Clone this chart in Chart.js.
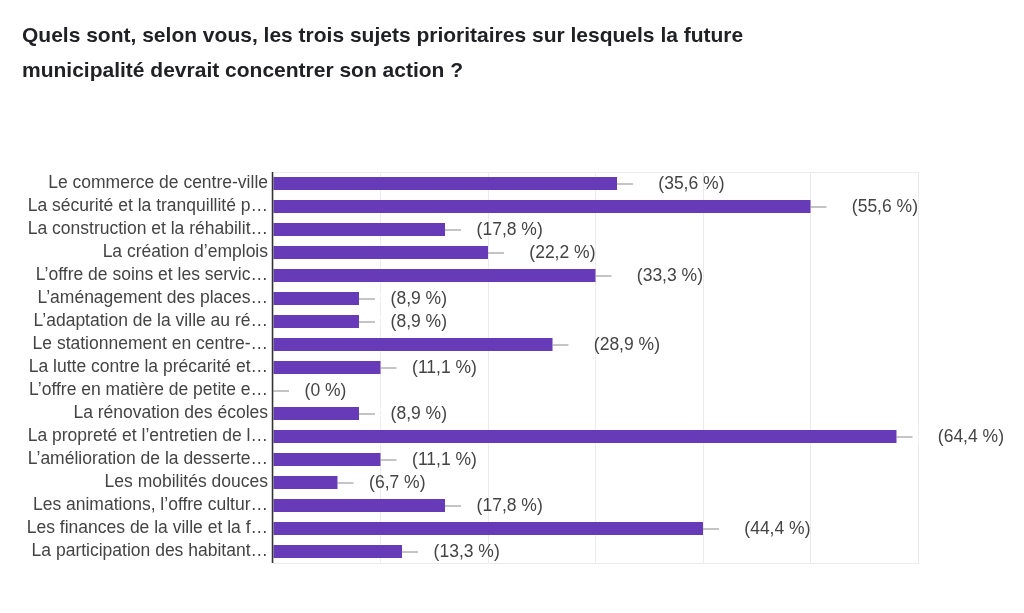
<!DOCTYPE html>
<html>
<head>
<meta charset="utf-8">
<script src="https://cdn.jsdelivr.net/npm/chart.js@4.4.0/dist/chart.umd.min.js"></script>
<style>
html,body{margin:0;padding:0;background:#fff;}
#wrap{width:1024px;height:613px;position:relative;}
</style>
</head>
<body>
<div id="wrap"><canvas id="c" width="1024" height="613"></canvas></div>
<script>
const titleLines = [
  "Quels sont, selon vous, les trois sujets prioritaires sur lesquels la future",
  "municipalité devrait concentrer son action ?"
];
const categories = [
  "Le commerce de centre-ville",
  "La sécurité et la tranquillité p…",
  "La construction et la réhabilit…",
  "La création d’emplois",
  "L’offre de soins et les servic…",
  "L’aménagement des places…",
  "L’adaptation de la ville au ré…",
  "Le stationnement en centre-…",
  "La lutte contre la précarité et…",
  "L’offre en matière de petite e…",
  "La rénovation des écoles",
  "La propreté et l’entretien de l…",
  "L’amélioration de la desserte…",
  "Les mobilités douces",
  "Les animations, l’offre cultur…",
  "Les finances de la ville et la f…",
  "La participation des habitant…"
];
// response counts (45 respondents)
const counts = [16, 25, 8, 10, 15, 4, 4, 13, 5, 0, 4, 29, 5, 3, 8, 20, 6];
const pctLabels = ["35,6 %","55,6 %","17,8 %","22,2 %","33,3 %","8,9 %","8,9 %","28,9 %","11,1 %","0 %","8,9 %","64,4 %","11,1 %","6,7 %","17,8 %","44,4 %","13,3 %"];
const axisMax = 30;
const axisStep = 5;

const FONT = "'Liberation Sans', Arial, sans-serif";

const valueLabels = {
  id: 'valueLabels',
  afterDatasetsDraw(chart) {
    const ctx = chart.ctx;
    const meta = chart.getDatasetMeta(0);
    ctx.save();
    ctx.font = "17.5px " + FONT;
    ctx.textBaseline = 'middle';
    meta.data.forEach((bar, i) => {
      const x = bar.x, y = bar.y;
      ctx.strokeStyle = '#8a8a8a';
      ctx.lineWidth = 1;
      ctx.beginPath();
      ctx.moveTo(x, y + 0.5);
      ctx.lineTo(x + 16, y + 0.5);
      ctx.stroke();
      const cnt = String(counts[i]) + ' ';
      const tx = x + 17;
      ctx.fillStyle = '#ffffff';
      ctx.fillText(cnt, tx, y + 1);
      const w = ctx.measureText(cnt).width;
      ctx.fillStyle = '#444444';
      ctx.fillText('(' + pctLabels[i] + ')', tx + w, y + 1);
    });
    ctx.restore();
  }
};

const frame = {
  id: 'frame',
  beforeDatasetsDraw(chart) {
    const {ctx, chartArea: a} = chart;
    ctx.save();
    ctx.strokeStyle = '#ebebeb';
    ctx.lineWidth = 1;
    ctx.beginPath();
    ctx.moveTo(a.left, a.top + 0.5);
    ctx.lineTo(a.right, a.top + 0.5);
    ctx.stroke();
    ctx.restore();
  },
  afterDatasetsDraw(chart) {
    const {ctx, chartArea: a} = chart;
    ctx.save();
    ctx.strokeStyle = '#333333';
    ctx.lineWidth = 1.5;
    ctx.beginPath();
    ctx.moveTo(a.left - 0.5, a.top);
    ctx.lineTo(a.left - 0.5, a.bottom);
    ctx.stroke();
    ctx.restore();
  }
};

new Chart(document.getElementById('c'), {
  type: 'bar',
  data: {
    labels: categories,
    datasets: [{
      data: counts,
      backgroundColor: '#673ab7',
      borderWidth: 0,
      barPercentage: 0.57,
      categoryPercentage: 1.0
    }]
  },
  plugins: [frame, valueLabels],
  options: {
    indexAxis: 'y',
    responsive: false,
    animation: false,
    devicePixelRatio: 1,
    layout: { padding: { left: 22, right: 106, top: 0, bottom: 50 } },
    plugins: {
      legend: { display: false },
      tooltip: { enabled: false },
      title: {
        display: true,
        text: titleLines,
        align: 'start',
        color: '#202124',
        font: { family: "'Liberation Sans', Arial, sans-serif", size: 21, weight: 'bold', lineHeight: 35/21 },
        padding: { top: 19, bottom: 83 }
      }
    },
    scales: {
      x: {
        min: 0,
        max: axisMax,
        ticks: { display: false, stepSize: axisStep },
        grid: { color: '#ebebeb', drawTicks: false, lineWidth: 1 },
        border: { display: true, color: '#ebebeb' },
        afterFit(s) { s.height = 0; }
      },
      y: {
        ticks: { color: '#444444', font: { family: FONT, size: 17.5 }, padding: 5, autoSkip: false },
        grid: { display: false, drawTicks: false },
        border: { display: false },
        afterFit(s) { s.width = 251; }
      }
    }
  }
});
</script>
</body>
</html>
